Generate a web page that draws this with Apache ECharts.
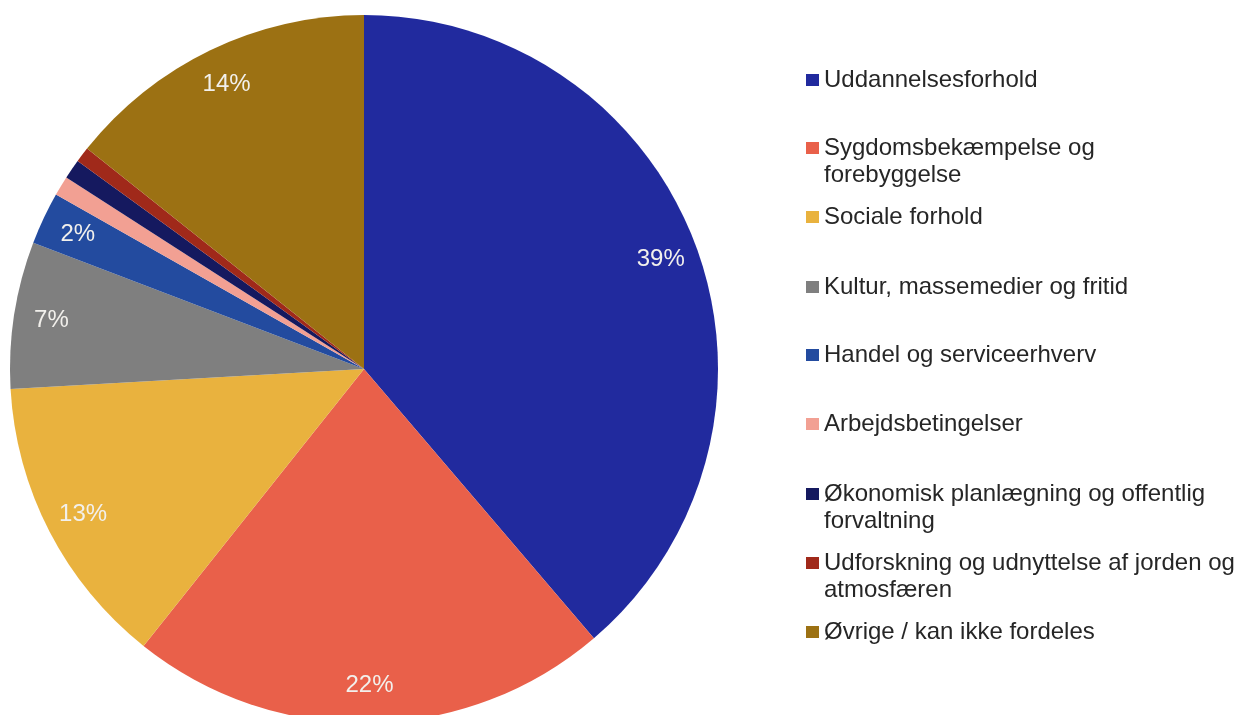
<!DOCTYPE html>
<html>
<head>
<meta charset="utf-8">
<script src="https://cdn.jsdelivr.net/npm/echarts@6/dist/echarts.min.js"></script>
<style>
  html, body { margin: 0; padding: 0; background: #fff; }
  #chart { width: 1237px; height: 715px; }
</style>
</head>
<body>
<div id="chart"></div>
<script>
const categories = [
    'Uddannelsesforhold',
    'Sygdomsbekæmpelse og forebyggelse',
    'Sociale forhold',
    'Kultur, massemedier og fritid',
    'Handel og serviceerhverv',
    'Arbejdsbetingelser',
    'Økonomisk planlægning og offentlig forvaltning',
    'Udforskning og udnyttelse af jorden og atmosfæren',
    'Øvrige / kan ikke fordeles'
];
const shares = [38.75, 21.95, 13.4, 6.7, 2.4, 0.9, 0.9, 0.7, 14.3];
const colors = ['#212a9e', '#e9604a', '#e9b23e', '#7f7f7f', '#234b9f', '#f2a093', '#15195f', '#a0291a', '#9c7113'];
// legend text wrapped like in the original
const legendText = [
    'Uddannelsesforhold',
    'Sygdomsbekæmpelse og\nforebyggelse',
    'Sociale forhold',
    'Kultur, massemedier og fritid',
    'Handel og serviceerhverv',
    'Arbejdsbetingelser',
    'Økonomisk planlægning og offentlig\nforvaltning',
    'Udforskning og udnyttelse af jorden og\natmosfæren',
    'Øvrige / kan ikke fordeles'
];
// y of the middle of each legend icon / first text line
const legendRows = [80, 148, 217, 287, 355, 424, 494, 563, 632];

const total = shares.reduce((a, b) => a + b, 0);
const pieData = categories.map((name, i) => ({
    name, value: shares[i], itemStyle: { color: colors[i] }
}));

const center = [364, 369];
const R = 354;
const LH = 27;

const legends = categories.map((name, i) => {
    const twoLines = legendText[i].indexOf('\n') >= 0;
    // an empty first line keeps the icon level with the first real line
    const txt = twoLines ? '\n' + legendText[i] : legendText[i];
    return {
        data: [name],
        left: 806,
        top: legendRows[i] - (twoLines ? LH * 1.5 : LH / 2),
        padding: 0,
        orient: 'vertical',
        icon: 'rect',
        itemWidth: 13,
        itemHeight: 12,
        itemGap: 0,
        selectedMode: false,
        formatter: () => txt,
        textStyle: {
            fontFamily: 'Liberation Sans, Arial, sans-serif',
            fontSize: 24,
            color: '#262626',
            lineHeight: LH
        }
    };
});

const chart = echarts.init(document.getElementById('chart'));
chart.setOption({
    animation: false,
    legend: legends,
    series: [
        {
            type: 'pie',
            center: center,
            radius: [0, R],
            startAngle: 90,
            clockwise: true,
            label: { show: false },
            labelLine: { show: false },
            emphasis: { disabled: true },
            data: pieData
        },
        {
            // transparent ring, only there to put the percent labels near the rim
            type: 'pie',
            center: center,
            radius: [R * 0.77, R],
            startAngle: 90,
            clockwise: true,
            silent: true,
            legendHoverLink: false,
            itemStyle: { color: 'rgba(0,0,0,0)' },
            labelLine: { show: false },
            label: {
                show: true,
                position: 'inside',
                fontFamily: 'Liberation Sans, Arial, sans-serif',
                fontSize: 24,
                color: '#f2f0ec',
                formatter: p => {
                    const pct = Math.round(p.value / total * 100);
                    return pct >= 2 ? pct + '%' : '';
                }
            },
            emphasis: { disabled: true },
            data: categories.map((name, i) => ({ name: name + ' ', value: shares[i] }))
        }
    ]
});
</script>
</body>
</html>
